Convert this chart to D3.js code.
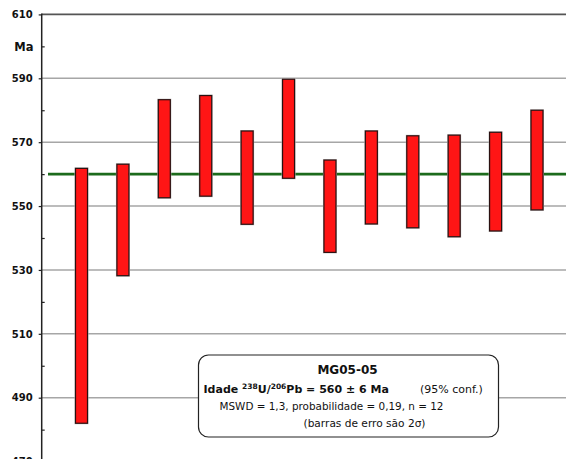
<!DOCTYPE html>
<html><head><meta charset="utf-8">
<script src="https://cdn.jsdelivr.net/npm/d3@7"></script>
<style>
html,body{margin:0;padding:0;background:#fff;}
svg{display:block;}
</style></head>
<body>
<script>
// ---- data ----
const analyses = [1,2,3,4,5,6,7,8,9,10,11,12];
const lower = [482.0, 528.2, 552.6, 553.1, 544.3, 558.7, 535.5, 544.4, 543.2, 540.4, 542.2, 548.8];
const upper = [561.8, 563.1, 583.3, 584.6, 573.5, 589.7, 564.4, 573.5, 572.0, 572.2, 573.1, 580.0];
const meanAge = 560;
const majorTicks = [610, 590, 570, 550, 530, 510, 490, 470];
const minorTicks = [600, 580, 560, 540, 520, 500, 480];
const yTitle = "Ma";
const boxLines = {
  title: "MG05-05",
  ageLabel: "Idade ",
  conf: "(95% conf.)",
  stats: "MSWD = 1,3, probabilidade = 0,19, n = 12",
  note: "(barras de erro são 2σ)"
};

const W = 566, H = 459;
const svg = d3.select("body").append("svg").attr("width", W).attr("height", H);

const axisX = 41.7;
const y = d3.scaleLinear().domain([590, 490]).range([78.3, 397.7]);
const x = d3.scaleLinear().domain([1, 12]).range([81.5, 537]);

// gridlines
svg.append("g").selectAll("line").data(majorTicks.filter(d => d < 610)).join("line")
  .attr("x1", axisX).attr("x2", W)
  .attr("y1", d => y(d)).attr("y2", d => y(d))
  .attr("stroke", "#a6a6a6").attr("stroke-width", 1.6);
// top border line
svg.append("line").attr("x1", axisX).attr("x2", W)
  .attr("y1", y(610)).attr("y2", y(610))
  .attr("stroke", "#555").attr("stroke-width", 1.8);

// mean line
svg.append("line").attr("x1", 48).attr("x2", W)
  .attr("y1", y(meanAge)).attr("y2", y(meanAge))
  .attr("stroke", "#1c6b1c").attr("stroke-width", 2.6);

// bars (error boxes)
svg.append("g").selectAll("rect.shadow").data(analyses).join("rect")
  .attr("x", (d) => x(d) - 6.5).attr("width", 13)
  .attr("y", (d, i) => y(upper[i]) - 0.5)
  .attr("height", (d, i) => y(lower[i]) - y(upper[i]) + 1)
  .attr("fill", "none").attr("stroke", "#bbb").attr("stroke-width", 1);
svg.append("g").selectAll("rect.bar").data(analyses).join("rect")
  .attr("x", (d) => x(d) - 6).attr("width", 12)
  .attr("y", (d, i) => y(upper[i]))
  .attr("height", (d, i) => y(lower[i]) - y(upper[i]))
  .attr("fill", "#ff1515").attr("stroke", "#2a1010").attr("stroke-width", 1.2);

// y axis
const yAxis = d3.axisLeft(y).tickValues(majorTicks).tickSizeInner(3).tickSizeOuter(0).tickPadding(6).tickFormat(d3.format("d"));
const ga = svg.append("g").attr("transform", `translate(${axisX},0)`).call(yAxis);
ga.select(".domain").remove();
ga.selectAll(".tick line").attr("stroke", "#222").attr("stroke-width", 1.2);
ga.selectAll(".tick text").attr("font-family", "DejaVu Sans").attr("font-weight", "bold")
  .attr("font-size", 10).attr("fill", "#111");
const yMinor = d3.axisLeft(y).tickValues(minorTicks).tickSizeInner(-3).tickSizeOuter(0).tickFormat("");
const gm = svg.append("g").attr("transform", `translate(${axisX},0)`).call(yMinor);
gm.select(".domain").remove();
gm.selectAll(".tick line").attr("stroke", "#222").attr("stroke-width", 1.2);
svg.append("line").attr("x1", axisX).attr("x2", axisX)
  .attr("y1", y(610) - 0.9).attr("y2", H)
  .attr("stroke", "#222").attr("stroke-width", 1.5);

// y title
svg.append("text").attr("x", 33.5).attr("y", y(600) + 4.5).attr("text-anchor", "end")
  .attr("font-family", "DejaVu Sans").attr("font-weight", "bold").attr("font-size", 11.5)
  .attr("fill", "#111").text(yTitle);

// annotation box
const bx = 198.5, by = 355, bw = 300, bh = 82;
svg.append("rect").attr("x", bx).attr("y", by).attr("width", bw).attr("height", bh)
  .attr("rx", 10).attr("ry", 10).attr("fill", "#fff").attr("stroke", "#222").attr("stroke-width", 1.2);

const ff = "DejaVu Sans";
svg.append("text").attr("x", 347.5).attr("y", 373.5).attr("text-anchor", "middle")
  .attr("font-family", ff).attr("font-weight", "bold").attr("font-size", 12).attr("fill", "#111")
  .text(boxLines.title);

const t2 = svg.append("text").attr("x", 203.5).attr("y", 392.5)
  .attr("font-family", ff).attr("font-weight", "bold").attr("font-size", 11).attr("fill", "#111");
t2.append("tspan").text(boxLines.ageLabel);
t2.append("tspan").attr("font-size", 7.5).attr("dy", -4).text("238");
t2.append("tspan").attr("dy", 4).text("U/");
t2.append("tspan").attr("font-size", 7.5).attr("dy", -4).text("206");
t2.append("tspan").attr("dy", 4).text("Pb = 560 ± 6 Ma");

svg.append("text").attr("x", 420).attr("y", 392.5)
  .attr("font-family", ff).attr("font-size", 11).attr("fill", "#111").text(boxLines.conf);

svg.append("text").attr("x", 219.5).attr("y", 409.5)
  .attr("font-family", ff).attr("font-size", 10.5).attr("fill", "#111")
  .attr("textLength", 224).attr("lengthAdjust", "spacingAndGlyphs").text(boxLines.stats);

svg.append("text").attr("x", 303.5).attr("y", 427)
  .attr("font-family", ff).attr("font-size", 11).attr("fill", "#111")
  .attr("textLength", 122).attr("lengthAdjust", "spacingAndGlyphs").text(boxLines.note);
</script>
</body></html>
